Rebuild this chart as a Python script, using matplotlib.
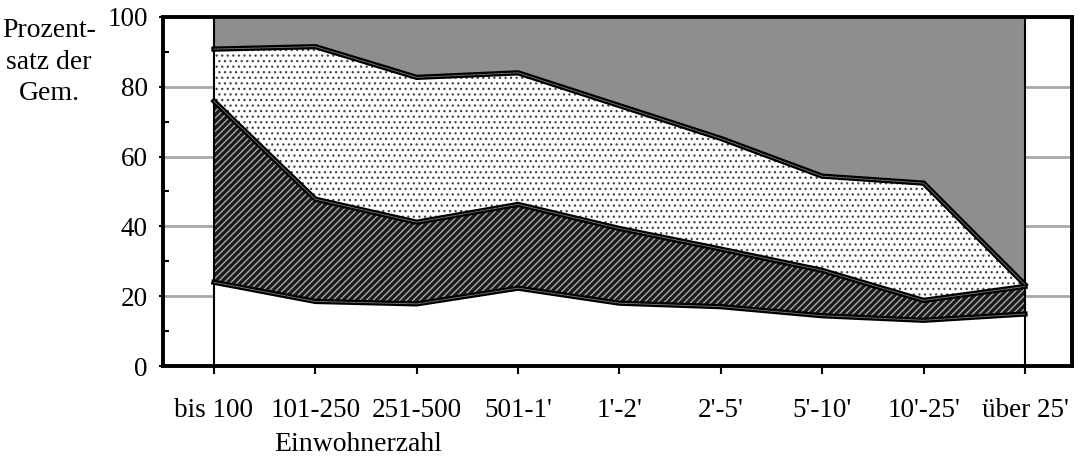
import numpy as np
import matplotlib.pyplot as plt

plt.rcParams['font.family'] = ['Liberation Serif', 'DejaVu Serif']
plt.rcParams['hatch.linewidth'] = 0.9

categories = ['bis 100', '101-250', '251-500', "501-1'", "1'-2'", "2'-5'",
              "5'-10'", "10'-25'", "über 25'"]
# Anteile in Prozent, von unten nach oben gestapelt
anteil_1 = [24.0, 18.5, 17.8, 22.3, 18.0, 17.0, 14.4, 13.1, 14.9]
anteil_2 = [51.9, 29.3, 23.4, 24.0, 21.4, 16.5, 13.0, 5.7, 7.9]
anteil_3 = [14.9, 43.7, 41.5, 37.7, 35.2, 31.7, 27.0, 33.6, 0.5]
anteil_4 = [9.2, 8.5, 17.3, 16.0, 25.4, 34.8, 45.6, 47.6, 76.7]
y_ticks = [0, 20, 40, 60, 80, 100]

x = np.arange(len(categories))

fig = plt.figure(figsize=(10.8, 4.61), dpi=100)
ax = fig.add_axes([163 / 1080, 1 - 366 / 461, (1072 - 163) / 1080, (366 - 17) / 461])

# graue Gitterlinien (nur in den Randfeldern sichtbar)
for v in y_ticks[1:-1]:
    ax.axhline(v, color='#a8a8a8', lw=2, zorder=0.5)

polys = ax.stackplot(x, anteil_1, anteil_2, anteil_3, anteil_4,
                     colors=['white', '#1c1c1c', 'white', '#8e8e8e'], zorder=1)
hatches = [None, '/////', '...', None]
hatch_cols = ['white', '#b4b4b4', '#444444', '#8e8e8e']
for p, h, hc in zip(polys, hatches, hatch_cols):
    p.set_linewidth(0)
    p.set_edgecolor(hc)
    if h:
        p.set_hatch(h)

cum = np.cumsum([anteil_1, anteil_2, anteil_3], axis=0)
for c in cum:
    ax.plot(x, c, color='black', lw=3.8, zorder=4, solid_joinstyle='miter')
    ax.plot(x, c, color='#7a7a7a', lw=0.6, zorder=5)

ax.axvline(x[0], color='black', lw=1.5, zorder=3)
ax.axvline(x[-1], color='black', lw=1.5, zorder=3)

ax.set_xlim(-0.503, 8.464)
ax.set_ylim(0, 100)

ax.set_yticks(y_ticks)
ax.set_yticks([10, 30, 50, 70, 90], minor=True)
ax.set_xticks(x)
ax.set_xticklabels(categories)
ax.tick_params(axis='y', which='major', direction='out', length=3, width=1.5,
               pad=8, labelsize=19.5)
ax.tick_params(axis='y', which='minor', direction='in', length=4, width=1.5)
ax.tick_params(axis='x', direction='out', length=6, width=1.5, pad=17, labelsize=19.5)

for s in ax.spines.values():
    s.set_linewidth(2.8)
    s.set_zorder(6)

fig.text(49 / 1080, 1 - 62 / 461, 'Prozent-\nsatz der\nGem.', ha='center', va='center',
         multialignment='center', linespacing=1.32, fontsize=20)
fig.text(358 / 1080, 1 - 444 / 461, 'Einwohnerzahl', ha='center', va='center', fontsize=20)

fig.savefig('out.png', dpi=100)
